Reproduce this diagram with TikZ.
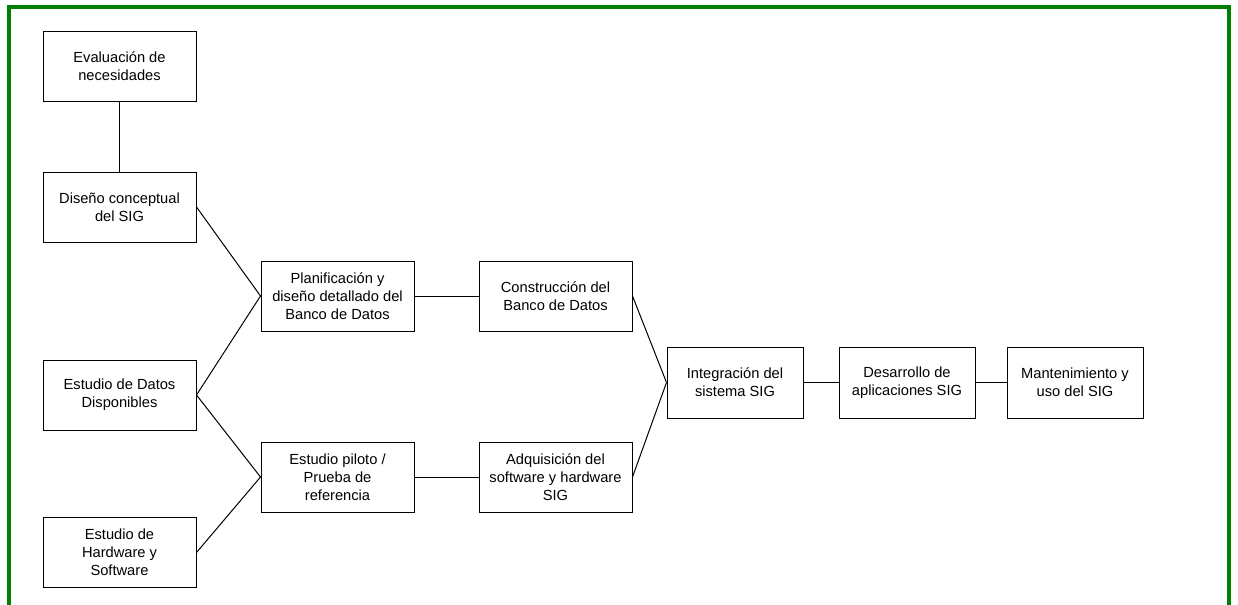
\documentclass[tikz,border=0pt]{standalone}
\usepackage{fontspec}
\setmainfont{Liberation Sans}
\definecolor{framegreen}{HTML}{008000}
\begin{document}
\begin{tikzpicture}[x=0.75pt,y=-0.75pt,
  stage/.style={draw=black, line width=0.75pt, align=center, inner sep=0pt,
    minimum width=114.75pt, minimum height=52.5pt,
    font=\fontsize{11}{13.5}\selectfont},
  late/.style={stage, minimum width=102pt, minimum height=53.25pt},
  link/.style={draw=black, line width=0.75pt}]
\useasboundingbox (0,0) rectangle (1238,604);
% outer frame, open at the bottom edge
\draw[framegreen, line width=2.4pt] (9,612) -- (9,7) -- (1229,7) -- (1229,612);

% first column
\node[stage] (eval)  at (119.5,66)   {Evaluación de\\necesidades};
\node[stage] (dis)   at (119.5,207)  {Diseño conceptual\\del SIG};
\node[stage] (datos) at (119.5,395)  {Estudio de Datos\\Disponibles};
\node[stage] (hw)    at (119.5,552.5){Estudio de\\Hardware y\\Software};

% second and third columns
\node[stage] (plan) at (337.5,296) {Planificación y\\diseño detallado del\\Banco de Datos};
\node[stage] (cons) at (555.5,296) {Construcción del\\Banco de Datos};
\node[stage] (pil)  at (337.5,477) {Estudio piloto /\\Prueba de\\referencia};
\node[stage] (adq)  at (555.5,477) {Adquisición del\\software y hardware\\SIG};

% final chain
\node[late] (integ) at (735,382.5)  {Integración del\\sistema SIG};
\node[late] (des)   at (907,382.5)  {Desarrollo de\\aplicaciones SIG};
\node[late] (man)   at (1075,382.5) {Mantenimiento y\\uso del SIG};

% connectors
\draw[link] (eval.south) -- (dis.north);
\draw[link] (dis.east) -- (plan.west);
\draw[link] (datos.east) -- (plan.west);
\draw[link] (datos.east) -- (pil.west);
\draw[link] (hw.east) -- (pil.west);
\draw[link] (plan.east) -- (cons.west);
\draw[link] (pil.east) -- (adq.west);
\draw[link] (cons.east) -- (integ.west);
\draw[link] (adq.east) -- (integ.west);
\draw[link] (integ.east) -- (des.west);
\draw[link] (des.east) -- (man.west);
\end{tikzpicture}
\end{document}
